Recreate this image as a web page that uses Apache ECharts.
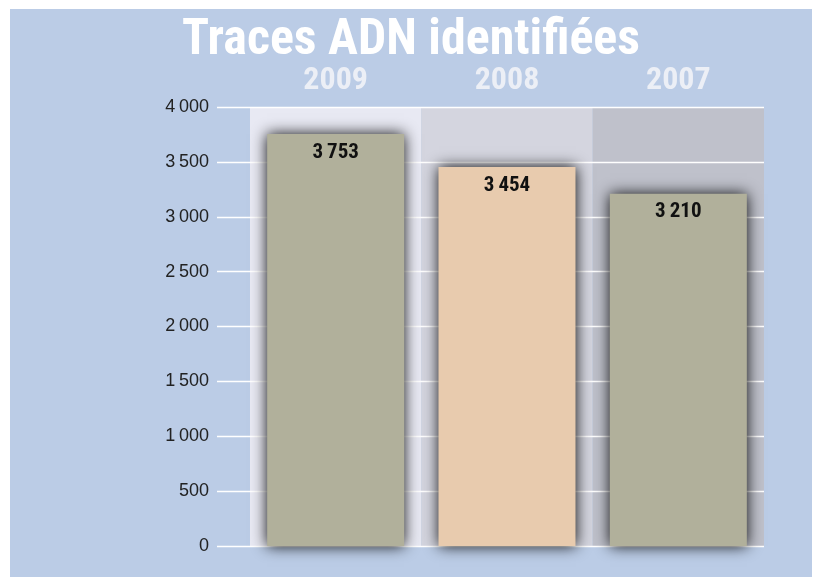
<!DOCTYPE html>
<html>
<head>
<meta charset="utf-8">
<style>
  html, body { margin: 0; padding: 0; background: #ffffff; }
  #chart { width: 816px; height: 577px; }
</style>
<script src="https://cdn.jsdelivr.net/npm/echarts@6/dist/echarts.min.js"></script>
</head>
<body>
<div id="chart"></div>
<script>
// Identified DNA traces per year
const years = ['2009', '2008', '2007'];
const traces = [3753, 3454, 3210];
const barColors = ['#b1b09b', '#e8cbae', '#b1b09b'];
const yTicks = [0, 500, 1000, 1500, 2000, 2500, 3000, 3500, 4000];

const chartTitle = 'Traces ADN identifiées';
const condensed = '"Roboto Condensed", "DejaVu Sans Condensed", Roboto';

// French-style thousands separator with a thin space
function fmt(n) {
  return String(n).replace(/\B(?=(\d{3})+(?!\d))/g, '\u2009');
}

const chart = echarts.init(document.getElementById('chart'), null, { renderer: 'canvas' });

chart.setOption({
  animation: false,
  backgroundColor: '#ffffff',
  graphic: [
    {
      type: 'rect',
      z: -10,
      shape: { x: 10, y: 9, width: 802, height: 568 },
      style: { fill: '#bbcce6' },
      silent: true
    },
    {
      type: 'text',
      z: 10,
      x: 411,
      y: 41,
      style: {
        text: chartTitle,
        fill: '#ffffff',
        font: 'bold 50px ' + condensed,
        textAlign: 'center',
        textVerticalAlign: 'middle'
      }
    }
  ],
  grid: [
    { left: 217, right: 52, top: 107, bottom: 31 },
    { left: 250, right: 52, top: 107, bottom: 31 }
  ],
  xAxis: [
    {
      gridIndex: 0,
      type: 'value',
      show: false
    },
    {
      gridIndex: 1,
      type: 'category',
      data: years,
      position: 'top',
      z: 0,
      axisLine: { show: false },
      axisTick: { show: false },
      axisLabel: {
        margin: 26,
        verticalAlign: 'middle',
        color: '#eceff6',
        fontFamily: condensed,
        fontWeight: 'bold',
        fontSize: 32
      },
      splitArea: {
        show: true,
        interval: 0,
        areaStyle: { color: ['#e8e9f3', '#d4d5df', '#bfc1cb'] }
      }
    }
  ],
  yAxis: [
    {
      gridIndex: 0,
      type: 'value',
      min: yTicks[0],
      max: yTicks[yTicks.length - 1],
      interval: yTicks[1] - yTicks[0],
      z: 1,
      axisLine: { show: false },
      axisTick: { show: false },
      axisLabel: {
        margin: 8,
        color: '#222222',
        fontFamily: '"Liberation Sans", Arial',
        fontSize: 18,
        formatter: v => fmt(v)
      },
      splitLine: { show: true, lineStyle: { color: '#ffffff', width: 1.3 } }
    },
    {
      gridIndex: 1,
      type: 'value',
      min: yTicks[0],
      max: yTicks[yTicks.length - 1],
      interval: yTicks[1] - yTicks[0],
      show: false
    }
  ],
  series: [
    {
      type: 'bar',
      xAxisIndex: 1,
      yAxisIndex: 1,
      z: 3,
      barWidth: 137,
      data: traces.map((v, i) => ({ value: v, itemStyle: { color: barColors[i] } })),
      itemStyle: {
        shadowBlur: 14,
        shadowColor: 'rgba(0, 0, 0, 0.95)',
        shadowOffsetX: 0,
        shadowOffsetY: 0
      },
      label: {
        show: true,
        position: 'insideTop',
        distance: 8,
        color: '#111111',
        fontFamily: condensed,
        fontWeight: 'bold',
        fontSize: 21,
        formatter: p => fmt(p.value)
      }
    }
  ]
});
</script>
</body>
</html>
